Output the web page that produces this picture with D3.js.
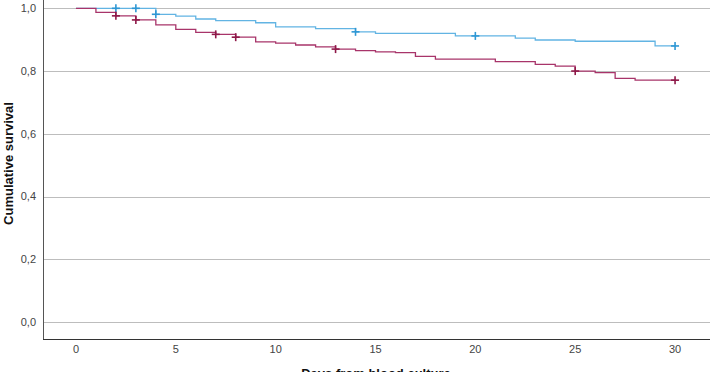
<!DOCTYPE html>
<html>
<head>
<meta charset="utf-8">
<script src="https://cdn.jsdelivr.net/npm/d3@7"></script>
<style>
  body { margin: 0; background: #fff; }
  svg { display: block; font-family: "Liberation Sans", Arial, sans-serif; }
</style>
</head>
<body>
<svg></svg>
<script>
const width = 711;
const height = 372;

// Kaplan-Meier steps
const blueTimes = [0, 4, 5, 6, 7, 9, 10, 12, 14, 15, 19, 22, 23, 25, 29];
const blueSurv = [1.0, 0.981, 0.975, 0.966, 0.961, 0.954, 0.941, 0.935, 0.925, 0.920, 0.912, 0.905, 0.899, 0.895, 0.880];
const blueCensored = [2, 3, 4, 14, 20, 30];

const redTimes = [0, 1, 2, 3, 4, 5, 6, 7, 8, 9, 10, 11, 12, 13, 14, 15, 16, 17, 18, 21, 23, 24, 25, 26, 27, 28];
const redSurv = [1.0, 0.987, 0.976, 0.963, 0.947, 0.933, 0.923, 0.917, 0.908, 0.893, 0.889, 0.883, 0.877, 0.870, 0.865, 0.861, 0.859, 0.847, 0.838, 0.830, 0.821, 0.816, 0.800, 0.795, 0.777, 0.771];
const redCensored = [2, 3, 7, 8, 13, 25, 30];

const xTicks = [0, 5, 10, 15, 20, 25, 30];
const yTicks = [0, 0.2, 0.4, 0.6, 0.8, 1.0];
const followUp = 30;

const svg = d3.select('svg')
    .attr('width', width)
    .attr('height', height);

const plot = { left: 43, right: 710, top: 0, bottom: 339 };

const x = d3.scaleLinear().domain([-1.65, 31.75]).range([plot.left, plot.right]);
const y = d3.scaleLinear().domain([-0.054, 1.0265]).range([plot.bottom, plot.top]);

// grid lines
svg.append('g')
    .selectAll('line')
    .data(yTicks)
    .enter().append('line')
    .attr('x1', plot.left)
    .attr('x2', plot.right)
    .attr('y1', d => Math.round(y(d)) + 0.5)
    .attr('y2', d => Math.round(y(d)) + 0.5)
    .attr('stroke', '#bdbdbd')
    .attr('stroke-width', 1);

// y tick labels
svg.append('g')
    .selectAll('text')
    .data(yTicks)
    .enter().append('text')
    .attr('x', 36)
    .attr('y', d => y(d))
    .attr('dy', '0.35em')
    .attr('text-anchor', 'end')
    .attr('font-size', 11)
    .attr('fill', '#444')
    .text(d => d3.format('.1f')(d).replace('.', ','));

// x tick labels
svg.append('g')
    .selectAll('text')
    .data(xTicks)
    .enter().append('text')
    .attr('x', d => x(d))
    .attr('y', 349)
    .attr('dy', '0.35em')
    .attr('text-anchor', 'middle')
    .attr('font-size', 11)
    .attr('fill', '#444')
    .text(d => d);

// axes lines
svg.append('line')
    .attr('x1', plot.left + 0.5).attr('x2', plot.left + 0.5)
    .attr('y1', plot.top).attr('y2', plot.bottom)
    .attr('stroke', '#555');
svg.append('line')
    .attr('x1', plot.left).attr('x2', plot.right)
    .attr('y1', plot.bottom + 0.5).attr('y2', plot.bottom + 0.5)
    .attr('stroke', '#333');

const stepAt = (times, surv, t) => {
    let s = surv[0];
    times.forEach((tt, i) => { if (tt <= t) s = surv[i]; });
    return s;
};

const line = d3.line()
    .x(d => x(d[0]))
    .y(d => y(d[1]))
    .curve(d3.curveStepAfter);

const drawCurve = (times, surv, censored, lineColor, markColor) => {
    const pts = times.map((t, i) => [t, surv[i]]);
    pts.push([followUp, surv[surv.length - 1]]);

    svg.append('path')
        .datum(pts)
        .attr('d', line)
        .attr('fill', 'none')
        .attr('stroke', lineColor)
        .attr('stroke-width', 1.3);

    const marks = svg.append('g')
        .selectAll('g')
        .data(censored)
        .enter().append('g')
        .attr('transform', d => `translate(${x(d)},${y(stepAt(times, surv, d))})`);
    marks.append('line')
        .attr('x1', -4).attr('x2', 4)
        .attr('stroke', markColor).attr('stroke-width', 1.6);
    marks.append('line')
        .attr('y1', -4).attr('y2', 4)
        .attr('stroke', markColor).attr('stroke-width', 1.6);
};

drawCurve(blueTimes, blueSurv, blueCensored, '#62b4e3', '#2e97d4');
drawCurve(redTimes, redSurv, redCensored, '#a8346a', '#8e1848');

// axis titles
svg.append('text')
    .attr('x', 376)
    .attr('y', 377.5)
    .attr('text-anchor', 'middle')
    .attr('font-size', 13)
    .attr('font-weight', 'bold')
    .attr('fill', '#111')
    .text('Days from blood culture');

svg.append('text')
    .attr('transform', 'translate(12.5,163.5) rotate(-90)')
    .attr('text-anchor', 'middle')
    .attr('font-size', 13)
    .attr('font-weight', 'bold')
    .attr('fill', '#111')
    .text('Cumulative survival');
</script>
</body>
</html>
